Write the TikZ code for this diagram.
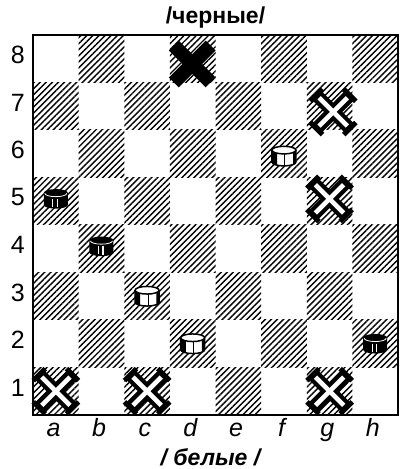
\documentclass[tikz,border=0pt]{standalone}
\usepackage{fontspec}
\setmainfont{Liberation Sans}
\usetikzlibrary{patterns.meta,positioning}

\begin{document}
\begin{tikzpicture}[
  x=45.625pt,y=47.5pt,
  hatch/.style={pattern={Lines[angle=45,distance=4.3pt,line width=1.4pt]}},
  rank/.style={font=\fontsize{25}{28}\selectfont},
  file/.style={anchor=base,font=\fontsize{25}{28}\selectfont\itshape},
  side/.style={font=\fontsize{23}{26}\selectfont\bfseries},
  pics/bcross/.style={code={
    \begin{scope}[rotate=45]
      \fill (-26pt,-7pt) rectangle (26pt,7pt);
      \fill (-7pt,-26pt) rectangle (7pt,26pt);
    \end{scope}}},
  pics/wcross/.style={code={
    \begin{scope}[rotate=45]
      \fill (-25pt,-6.5pt) rectangle (25pt,6.5pt);
      \fill (-6.5pt,-25pt) rectangle (6.5pt,25pt);
      \foreach \a in {0,90,180,270}
        \fill[rotate=\a] (21pt,-8.5pt) rectangle (26pt,8.5pt);
      \fill[white] (-20pt,-2.3pt) rectangle (20pt,2.3pt);
      \fill[white] (-2.3pt,-20pt) rectangle (2.3pt,20pt);
    \end{scope}}},
  pics/wman/.style={code={
    \fill[white] (-12pt,6pt) -- (-12pt,-6pt)
      arc[start angle=180,end angle=360,x radius=12pt,y radius=3.8pt]
      -- (12pt,6pt) arc[start angle=0,end angle=180,x radius=12pt,y radius=3.8pt] -- cycle;
    \fill (-12pt,6pt) -- (-12pt,-6pt)
      arc[start angle=180,end angle=235,x radius=12pt,y radius=3.8pt]
      -- (-6.9pt,2.5pt) -- cycle;
    \fill (12pt,6pt) -- (12pt,-6pt)
      arc[start angle=360,end angle=320,x radius=12pt,y radius=3.8pt]
      -- (9.2pt,3pt) -- cycle;
    \draw[line width=1.5pt] (-12pt,6pt) -- (-12pt,-6pt)
      arc[start angle=180,end angle=360,x radius=12pt,y radius=3.8pt]
      -- (12pt,6pt);
    \draw[line width=1.5pt,fill=white] (0,6pt) ellipse [x radius=12pt,y radius=3.8pt];
    \draw[line width=1.1pt] (1pt,2.2pt) -- (1pt,-9.6pt);
  }},
  pics/bman/.style={code={
    \fill (-12pt,6pt) -- (-12pt,-6pt)
      arc[start angle=180,end angle=360,x radius=12pt,y radius=3.8pt]
      -- (12pt,6pt) arc[start angle=0,end angle=180,x radius=12pt,y radius=3.8pt] -- cycle;
    \draw[white,line width=.8pt] (-11pt,5.5pt)
      arc[start angle=180,end angle=360,x radius=11pt,y radius=3.3pt];
    \draw[white,line width=1.2pt] (-3pt,0pt) -- (-3pt,-8pt)
      (1.5pt,0pt) -- (1.5pt,-8.5pt);
  }}
]
  \useasboundingbox (-33pt,-54pt) rectangle ++(404pt,469pt);

  % board
  \foreach \i in {0,...,7}
    \foreach \j in {0,...,7} {
      \pgfmathtruncatemacro\dark{mod(\i+\j,2)}
      \ifnum\dark=0
        \fill[hatch] (\i,\j) rectangle ++(1,1);
      \fi
    }
  \draw[line width=2.5pt] (0,0) rectangle (8,8);
  \coordinate (top) at (4,8);
  \coordinate (bottom) at (4,0);

  % coordinates
  \foreach \r in {1,...,8}
    \node[rank] (rank\r) at (-.33,\r-.42) {\r};
  \foreach \f [count=\k] in {a,b,c,d,e,f,g,h}
    \node[file] (file\f) at (\k-.55,-.45) {\f};

  \node[side,above=3pt of top] (black) {/черные/};
  \node[side,font=\fontsize{23}{26}\selectfont\bfseries\itshape,
    below=30pt of bottom,xshift=-5pt] (white) {/ белые /};

  % pieces
  \foreach \x/\y/\kind in {3.49/7.39/bcross, 6.58/6.38/wcross, 6.5/4.55/wcross,
      .5/.5/wcross, 2.5/.5/wcross, 6.5/.5/wcross}
    \pic at (\x,\y) {\kind};
  \foreach \x/\y/\kind in {5.5/5.45/wman, .5/4.55/bman, 1.5/3.55/bman,
      2.5/2.5/wman, 3.5/1.5/wman, 7.5/1.5/bman}
    \pic at (\x,\y) {\kind};
\end{tikzpicture}
\end{document}
